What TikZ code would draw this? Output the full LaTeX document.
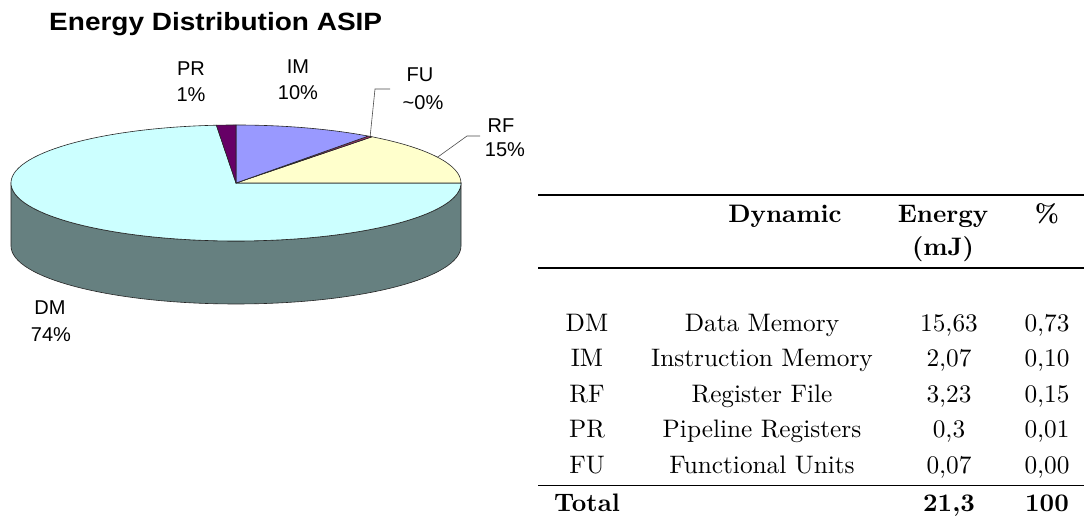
\documentclass[tikz,border=0pt]{standalone}
\usepackage{fontspec}
\newfontfamily\arialfont{Liberation Sans}
\newfontfamily\tabfont{lmroman10}[Extension=.otf, UprightFont=*-regular, BoldFont=*-bold]
\definecolor{dmtop}{HTML}{CCFFFF}
\definecolor{dmside}{HTML}{668080}
\definecolor{imcol}{HTML}{9999FF}
\definecolor{fucol}{HTML}{993366}
\definecolor{rfcol}{HTML}{FFFFCC}
\definecolor{prcol}{HTML}{660066}
\tikzset{
  wedge/.style={draw=black!85, line width=0.6pt, line join=round},
  leader/.style={draw=black!70, line width=0.6pt},
  lbl/.style={font=\arialfont\fontsize{20}{24}\selectfont, anchor=base, inner sep=0pt},
  titletxt/.style={font=\arialfont\bfseries\fontsize{25}{30}\selectfont, anchor=base west, inner sep=0pt, xscale=1.12},
  tabtxt/.style={font=\tabfont\fontsize{25.3}{30}\selectfont, anchor=base, inner sep=0pt},
  tabbold/.style={tabtxt, font=\tabfont\bfseries\fontsize{25.3}{30}\selectfont},
  rulethick/.style={line width=2pt},
  rulethin/.style={line width=1.3pt},
}
\begin{document}
\begin{tikzpicture}[x=1pt, y=1pt]
\useasboundingbox (0,0) rectangle (1084,521);
\fill[white] (0,0) rectangle (1084,521);

% ---- title ----
\node[titletxt] (title) at (49,490) {Energy Distribution ASIP};

% ---- 3D pie: centre of top face and radii ----
\def\rx{225}\def\ry{58}
\coordinate (O) at (236,338);

% front rim of the cylinder (only DM shows here)
\filldraw[wedge, fill=dmside] (11,338) -- (11,275)
  arc[start angle=180, end angle=360, x radius=\rx, y radius=\ry]
  -- (461,338)
  arc[start angle=0, end angle=-180, x radius=\rx, y radius=\ry] -- cycle;

% top face slices
\filldraw[wedge, fill=dmtop] (O) -- ({236+\rx*cos(95)},{338+\ry*sin(95)})
  arc[start angle=95, end angle=360, x radius=\rx, y radius=\ry] -- cycle;
\filldraw[wedge, fill=rfcol] (O) -- ({236+\rx*cos(52.8)},{338+\ry*sin(52.8)})
  arc[start angle=52.8, end angle=0, x radius=\rx, y radius=\ry] -- cycle;
\filldraw[wedge, fill=fucol] (O) -- ({236+\rx*cos(54)},{338+\ry*sin(54)})
  arc[start angle=54, end angle=52.8, x radius=\rx, y radius=\ry] -- cycle;
\filldraw[wedge, fill=imcol] (O) -- ({236+\rx*cos(90)},{338+\ry*sin(90)})
  arc[start angle=90, end angle=54, x radius=\rx, y radius=\ry] -- cycle;
\filldraw[wedge, fill=prcol] (O) -- ({236+\rx*cos(95)},{338+\ry*sin(95)})
  arc[start angle=95, end angle=90, x radius=\rx, y radius=\ry] -- cycle;

% leader lines
\coordinate (fuPt) at ({236+\rx*cos(53.4)},{338+\ry*sin(53.4)});
\coordinate (fuBend) at (375,432);
\coordinate (fuEnd) at (390,432);
\draw[leader] (fuPt) -- (fuBend) -- (fuEnd);
\coordinate (rfPt) at ({236+\rx*cos(26.4)},{338+\ry*sin(26.4)});
\coordinate (rfBend) at (467,385);
\coordinate (rfEnd) at (480,385);
\draw[leader] (rfPt) -- (rfBend) -- (rfEnd);

% slice labels
\node[lbl] (prA) at (191,445.5) {PR};
\node[lbl] (prB) at (191,419.5) {1\%};
\node[lbl] (imA) at (298,447.5) {IM};
\node[lbl] (imB) at (298,421.5) {10\%};
\node[lbl] (fuA) at (420,439) {FU};
\node[lbl] (fuB) at (423,411.5) {\textasciitilde 0\%};
\node[lbl] (rfA) at (501,388) {RF};
\node[lbl] (rfB) at (505,364) {15\%};
\node[lbl] (dmA) at (50,206) {DM};
\node[lbl] (dmB) at (51,179.5) {74\%};

% ---- table ----
\draw[rulethick] (538,325.5) -- (1084,325.5);
\draw[rulethin] (538,253) -- (1084,253);
\draw[rulethin] (538,35.5) -- (1084,35.5);

\node[tabbold] (hDyn) at (785,298) {Dynamic};
\node[tabbold] (hEn) at (943,298) {Energy};
\node[tabbold] (hmJ) at (943,265) {(mJ)};
\node[tabbold] (hPc) at (1047,298) {\%};

\node[tabtxt] (a1) at (587,189) {DM};
\node[tabtxt] (b1) at (762,189) {Data Memory};
\node[tabtxt] (c1) at (949,189) {15,63};
\node[tabtxt] (d1) at (1047,189) {0,73};

\node[tabtxt] (a2) at (587,154) {IM};
\node[tabtxt] (b2) at (762,154) {Instruction Memory};
\node[tabtxt] (c2) at (949,154) {2,07};
\node[tabtxt] (d2) at (1047,154) {0,10};

\node[tabtxt] (a3) at (587,118) {RF};
\node[tabtxt] (b3) at (762,118) {Register File};
\node[tabtxt] (c3) at (949,118) {3,23};
\node[tabtxt] (d3) at (1047,118) {0,15};

\node[tabtxt] (a4) at (587,83) {PR};
\node[tabtxt] (b4) at (762,83) {Pipeline Registers};
\node[tabtxt] (c4) at (949,83) {0,3};
\node[tabtxt] (d4) at (1047,83) {0,01};

\node[tabtxt] (a5) at (587,47) {FU};
\node[tabtxt] (b5) at (762,47) {Functional Units};
\node[tabtxt] (c5) at (949,47) {0,07};
\node[tabtxt] (d5) at (1047,47) {0,00};

\node[tabbold] (tA) at (587,9) {Total};
\node[tabbold] (tC) at (949,9) {21,3};
\node[tabbold] (tD) at (1047,9) {100};
\end{tikzpicture}
\end{document}
